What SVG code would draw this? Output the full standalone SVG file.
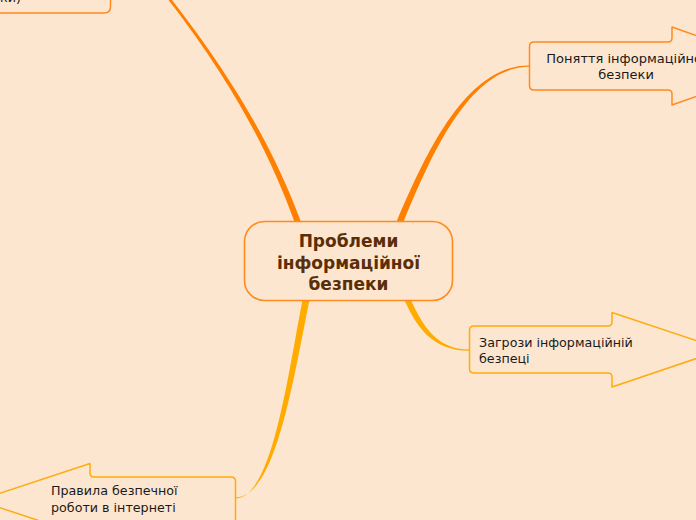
<svg xmlns="http://www.w3.org/2000/svg" width="696" height="520" viewBox="0 0 696 520">
  <style>
    .bg { fill: #fde6cf; }
    .main { fill: #fde6cf; stroke: #ff8a1e; stroke-width: 1.6; }
    .maintxt { font-family: "DejaVu Sans", Verdana, sans-serif; font-size: 17px; font-weight: bold; fill: #5a2e08; text-anchor: middle; }
    .sub { font-family: "DejaVu Sans", Verdana, sans-serif; font-size: 12.7px; fill: #1a1a1a; }
    .boxo { fill: #fde6cf; stroke: #ff8a1e; stroke-width: 1.5; stroke-linejoin: round; }
    .boxy { fill: #fde6cf; stroke: #ffab0f; stroke-width: 1.5; stroke-linejoin: round; }
    .cono { fill: #ff8000; }
    .cony { fill: #ffab00; }
  </style>
  <rect class="bg" x="0" y="0" width="696" height="520"/>

  <g id="connectors">
    <path class="cono" d="M294.5,222 C272,160 238,90 168.5,0 L172,0 C242,90 278,160 301,222 Z"/>
    <path class="cono" d="M396.5,222 C427,150 467,65.5 529,65.5 L529,66.8 C471,66.8 433,150 403.5,222 Z"/>
    <path class="cony" d="M404.5,300 C416,326 432,350.8 469,350.8 L469,349.6 C437,349.6 422,325 411,300 Z"/>
    <path class="cony" d="M302.5,300 C287,380 272,498.6 235,498.6 L235,497.6 C276,497.6 293,380 309.5,300 Z"/>
  </g>

  <g id="node-top-left">
    <path class="boxo" d="M-10,-20 H104 Q110.5,-20 110.5,-13 V6.5 Q110.5,13 104,13 H-10 Z"/>
    <text class="sub" x="0" y="2">ки)</text>
  </g>

  <g id="node-center">
    <rect class="main" x="244.5" y="221.5" width="208" height="79" rx="20" ry="20"/>
    <text class="maintxt" x="348.5" y="247">Проблеми</text>
    <text class="maintxt" x="348.5" y="268.5">інформаційної</text>
    <text class="maintxt" x="348.5" y="290">безпеки</text>
  </g>

  <g id="node-poniattia">
    <path class="boxo" d="M534,42 H668 Q672,42 672,38 V27 L783,66 L672,105 V94 Q672,90 668,90 H534 Q529.5,90 529.5,85.5 V46.5 Q529.5,42 534,42 Z"/>
    <text class="sub" x="626" y="63" text-anchor="middle" style="font-size:13px">Поняття інформаційної</text>
    <text class="sub" x="626" y="79" text-anchor="middle" style="font-size:13px">безпеки</text>
  </g>

  <g id="node-zahrozy">
    <path class="boxy" d="M474,326 H608 Q612,326 612,322 V312.5 L723,349.5 L612,387 V377 Q612,373 608,373 H474 Q469.5,373 469.5,368.5 V330.5 Q469.5,326 474,326 Z"/>
    <text class="sub" x="479" y="347">Загрози інформаційній</text>
    <text class="sub" x="479" y="363">безпеці</text>
  </g>

  <g id="node-pravyla">
    <path class="boxy" d="M231,477 H94 Q90,477 90,473 V463.5 L-22,500.5 L90,537.5 V528 Q90,524 94,524 H231 Q235.5,524 235.5,519.5 V481.5 Q235.5,477 231,477 Z"/>
    <text class="sub" x="51" y="495">Правила безпечної</text>
    <text class="sub" x="51" y="512">роботи в інтернеті</text>
  </g>
</svg>
